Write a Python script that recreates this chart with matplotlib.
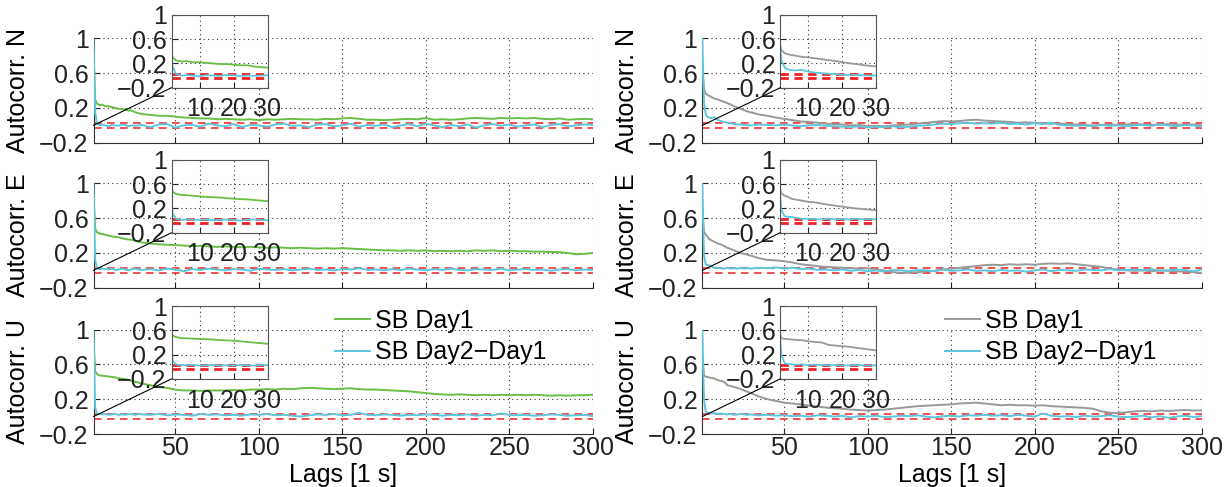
import matplotlib.pyplot as plt
from matplotlib.patches import ConnectionPatch

plt.rcParams['font.family'] = ['Liberation Sans', 'DejaVu Sans']
plt.rcParams['font.size'] = 18

# lags [1 s]
lags = [1, 2, 3, 4, 5, 6, 8, 10, 12, 14, 16, 18, 20, 22, 24, 26, 28, 30] + list(range(35, 305, 5))

# left column: SB Day1 (green) / SB Day2-Day1 (cyan)
green_N = [0.83, 0.30, 0.25, 0.24, 0.23, 0.24, 0.22, 0.22, 0.21, 0.20, 0.19, 0.19, 0.18, 0.17, 0.17, 0.15, 0.14, 0.13,
           0.12, 0.11, 0.11, 0.10, 0.09, 0.085, 0.08, 0.08, 0.07,
           0.075, 0.07, 0.065, 0.07, 0.06, 0.07, 0.065, 0.07, 0.075,
           0.07, 0.07, 0.065, 0.075, 0.07, 0.08, 0.085, 0.075, 0.065,
           0.065, 0.06, 0.065, 0.07, 0.075, 0.07, 0.085, 0.065, 0.07,
           0.065, 0.07, 0.08, 0.085, 0.08, 0.075, 0.085, 0.08, 0.085,
           0.08, 0.085, 0.075, 0.07, 0.08, 0.065, 0.07, 0.075, 0.07]
cyan_N = [1.0, 0.15, 0.03, 0.01, 0.0, 0.01, 0.0, -0.01, 0.005, 0.0, -0.005, 0.01, 0.005, -0.01, 0.0, -0.005, 0.0, 0.005,
          -0.02, 0.01, 0.015, -0.025, 0.0, 0.005, -0.015, 0.02, 0.0,
          -0.01, 0.015, -0.02, 0.005, 0.0, -0.015, 0.01, 0.02, -0.005,
          0.0, -0.02, 0.01, 0.015, -0.01, 0.0, 0.02, -0.015, 0.005,
          -0.005, 0.01, -0.02, 0.0, 0.015, -0.01, 0.02, 0.0, -0.02,
          0.005, -0.01, 0.01, -0.025, 0.0, 0.015, -0.005, 0.01, -0.015,
          0.0, 0.01, -0.02, 0.005, 0.015, -0.01, 0.0, 0.01, 0.005]
green_E = [0.87, 0.48, 0.44, 0.43, 0.42, 0.42, 0.41, 0.40, 0.39, 0.385, 0.38, 0.37, 0.36, 0.355, 0.35, 0.34, 0.33, 0.32,
           0.31, 0.30, 0.295, 0.29, 0.285, 0.28, 0.28, 0.275, 0.27,
           0.275, 0.27, 0.265, 0.27, 0.265, 0.26, 0.265, 0.26, 0.255,
           0.26, 0.255, 0.25, 0.255, 0.25, 0.255, 0.25, 0.245, 0.24,
           0.235, 0.23, 0.23, 0.225, 0.23, 0.225, 0.23, 0.22, 0.225,
           0.22, 0.225, 0.22, 0.23, 0.225, 0.23, 0.22, 0.225, 0.22,
           0.22, 0.215, 0.215, 0.21, 0.21, 0.20, 0.185, 0.19, 0.20]
cyan_E = [1.0, 0.12, 0.03, 0.02, 0.01, 0.02, 0.015, 0.01, 0.02, 0.005, 0.01, 0.02, 0.01, 0.0, 0.015, 0.02, 0.01, 0.005,
          0.015, 0.0, 0.02, 0.01, -0.01, 0.015, 0.005, 0.02, 0.01,
          0.0, 0.015, 0.01, -0.005, 0.02, 0.01, 0.005, 0.015, 0.0,
          0.01, 0.02, 0.005, 0.01, 0.0, 0.015, 0.01, 0.025, 0.005,
          0.01, 0.0, 0.015, 0.005, 0.02, 0.01, 0.0, 0.015, 0.005,
          0.02, 0.005, 0.0, 0.015, 0.01, 0.005, 0.02, 0.0, 0.01,
          0.015, 0.005, 0.01, -0.005, 0.01, 0.015, 0.0, 0.01, 0.005]
green_U = [0.87, 0.52, 0.49, 0.48, 0.47, 0.47, 0.465, 0.46, 0.455, 0.45, 0.44, 0.435, 0.43, 0.42, 0.41, 0.40, 0.39, 0.38,
           0.36, 0.34, 0.33, 0.31, 0.30, 0.30, 0.295, 0.30, 0.30,
           0.30, 0.305, 0.30, 0.31, 0.31, 0.315, 0.31, 0.32, 0.315,
           0.325, 0.33, 0.325, 0.32, 0.315, 0.32, 0.325, 0.315, 0.31,
           0.31, 0.305, 0.30, 0.295, 0.29, 0.28, 0.27, 0.26, 0.255,
           0.25, 0.255, 0.25, 0.245, 0.25, 0.245, 0.25, 0.245, 0.25,
           0.245, 0.25, 0.245, 0.24, 0.245, 0.24, 0.245, 0.245, 0.25]
cyan_U = [1.0, 0.10, 0.04, 0.03, 0.03, 0.025, 0.03, 0.02, 0.025, 0.03, 0.02, 0.025, 0.02, 0.03, 0.025, 0.02, 0.03, 0.025,
          0.02, 0.03, 0.015, 0.025, 0.02, 0.01, 0.03, 0.02, 0.025,
          0.015, 0.02, 0.01, 0.025, 0.02, 0.03, 0.015, 0.02, 0.01,
          0.0, 0.015, 0.025, 0.02, 0.03, 0.015, 0.02, 0.045, 0.02,
          0.015, 0.025, 0.02, 0.01, 0.02, 0.015, 0.025, 0.02, 0.01,
          0.02, 0.015, 0.025, 0.01, 0.02, 0.015, 0.035, 0.02, 0.015,
          0.02, 0.01, 0.015, 0.025, 0.02, 0.01, 0.015, 0.02, 0.005]

# right column: SB Day1 (gray) / SB Day2-Day1 (cyan)
gray_N = [0.67, 0.42, 0.37, 0.35, 0.34, 0.33, 0.31, 0.30, 0.285, 0.27, 0.255, 0.24, 0.22, 0.205, 0.19, 0.175, 0.16, 0.15,
          0.125, 0.11, 0.09, 0.075, 0.06, 0.045, 0.04, 0.03, 0.02,
          0.015, 0.01, 0.0, 0.005, -0.01, -0.005, -0.01, 0.0, 0.005,
          0.01, 0.02, 0.03, 0.04, 0.05, 0.045, 0.05, 0.06, 0.065,
          0.055, 0.05, 0.045, 0.04, 0.03, 0.035, 0.03, 0.025, 0.02,
          0.02, 0.015, 0.01, 0.005, 0.0, 0.005, 0.01, 0.005, 0.01,
          0.015, 0.01, 0.005, 0.01, 0.015, 0.01, 0.005, 0.01, 0.0]
cyan2_N = [1.0, 0.26, 0.13, 0.10, 0.09, 0.085, 0.095, 0.065, 0.05, 0.04, 0.03, 0.025, 0.015, 0.01, 0.01, 0.005, 0.0, 0.0,
           0.01, 0.005, 0.0, 0.01, 0.0, -0.01, 0.0, 0.005, -0.005,
           -0.01, -0.015, -0.02, -0.01, -0.025, -0.015, -0.02, -0.01, -0.02,
           -0.015, -0.005, 0.0, 0.01, 0.02, 0.015, 0.025, 0.03, 0.02,
           0.025, 0.02, 0.03, 0.015, 0.02, 0.01, 0.025, 0.015, 0.03,
           0.005, 0.0, -0.005, 0.0, -0.01, 0.005, -0.005, 0.0, -0.01,
           0.0, 0.005, -0.005, 0.01, 0.0, -0.01, 0.005, 0.0, -0.015]
gray_E = [0.70, 0.45, 0.41, 0.39, 0.36, 0.35, 0.33, 0.31, 0.30, 0.28, 0.26, 0.245, 0.23, 0.215, 0.20, 0.19, 0.18, 0.17,
          0.14, 0.12, 0.115, 0.105, 0.09, 0.07, 0.06, 0.05, 0.04,
          0.035, 0.03, 0.025, 0.02, 0.025, 0.01, 0.0, -0.02, -0.03,
          -0.025, -0.02, -0.01, -0.005, 0.01, 0.02, 0.03, 0.04, 0.05,
          0.06, 0.065, 0.06, 0.07, 0.065, 0.07, 0.065, 0.075, 0.08,
          0.075, 0.08, 0.07, 0.06, 0.05, 0.04, 0.02, 0.01, 0.0,
          -0.005, 0.0, -0.01, 0.0, -0.005, -0.01, -0.015, -0.02, -0.03]
cyan2_E = [1.0, 0.17, 0.07, 0.06, 0.06, 0.05, 0.03, 0.03, 0.025, 0.02, 0.03, 0.02, 0.025, 0.02, 0.03, 0.02, 0.025, 0.02,
           0.03, 0.025, 0.035, 0.02, 0.03, 0.015, 0.02, 0.005, 0.01,
           0.0, 0.01, -0.005, 0.005, -0.01, 0.0, -0.015, 0.005, 0.0,
           -0.01, 0.005, 0.0, -0.01, 0.01, -0.005, 0.0, 0.01, -0.005,
           0.0, -0.01, 0.005, -0.005, 0.0, -0.015, 0.0, 0.01, -0.01,
           0.005, 0.0, -0.005, 0.01, 0.005, 0.0, 0.015, 0.0, 0.005,
           0.01, 0.0, 0.015, -0.005, 0.0, 0.01, 0.005, -0.01, 0.01]
gray_U = [0.71, 0.47, 0.46, 0.455, 0.45, 0.445, 0.44, 0.42, 0.41, 0.40, 0.36, 0.35, 0.34, 0.33, 0.315, 0.30, 0.285, 0.27,
          0.23, 0.20, 0.18, 0.16, 0.15, 0.14, 0.125, 0.115, 0.105,
          0.095, 0.09, 0.08, 0.075, 0.07, 0.075, 0.08, 0.09, 0.10,
          0.11, 0.12, 0.125, 0.13, 0.135, 0.14, 0.15, 0.155, 0.16,
          0.15, 0.14, 0.13, 0.135, 0.13, 0.13, 0.125, 0.13, 0.12,
          0.115, 0.11, 0.105, 0.10, 0.09, 0.06, 0.045, 0.04, 0.05,
          0.06, 0.065, 0.06, 0.07, 0.065, 0.07, 0.075, 0.07, 0.07]
cyan2_U = [1.0, 0.20, 0.06, 0.045, 0.04, 0.035, 0.04, 0.03, 0.035, 0.03, 0.025, 0.03, 0.02, 0.025, 0.03, 0.025, 0.02, 0.025,
           0.015, 0.02, 0.01, 0.015, 0.005, 0.01, 0.0, 0.015, 0.01,
           0.0, 0.01, -0.01, 0.005, 0.0, 0.01, -0.005, 0.0, 0.01,
           0.005, 0.015, 0.0, -0.01, 0.005, 0.01, 0.0, 0.015, 0.01,
           0.02, 0.01, 0.015, 0.005, 0.02, 0.01, 0.0, 0.035, 0.01,
           0.0, 0.005, -0.005, 0.01, 0.0, 0.005, 0.015, 0.0, -0.005,
           0.0, 0.01, -0.01, 0.005, -0.015, 0.0, 0.01, -0.005, 0.005]

conf = 0.033  # confidence bound
row_names = ['N', 'E', 'U']
left_day1 = [green_N, green_E, green_U]
left_diff = [cyan_N, cyan_E, cyan_U]
right_day1 = [gray_N, gray_E, gray_U]
right_diff = [cyan2_N, cyan2_E, cyan2_U]

GREEN = '#6abd45'
CYAN = '#5cc6dc'
GRAY = '#999999'
RED = '#ee2024'

W, H = 1231, 487
def box(x, y, w, h):
    return [x / W, 1 - (y + h) / H, w / W, h / H]

fig = plt.figure(figsize=(W / 100, H / 100), dpi=100)

col_x = [93.5, 702.3]
row_y = [38.3, 183.3, 329.5]
ax_w, ax_h = 499.3, 104.5
yt = [-0.2, 0.2, 0.6, 1]
ytl = ['\u22120.2', '0.2', '0.6', '1']

def style(ax, inset=False):
    ax.set_ylim(-0.2, 1)
    ax.set_yticks(yt)
    ax.set_yticklabels(ytl)
    ax.grid(True, linestyle=(0, (1, 3)), color='#333333', lw=0.8)
    ax.tick_params(direction='in', length=4, width=0.8, colors='#222222', pad=3.5, labelsize=18)
    ax.tick_params(axis='x', pad=7 if inset else 1.5)
    for s in ax.spines.values():
        s.set_color('#555555' if inset else '#333333')
        s.set_linewidth(0.8)

for c in range(2):
    day1 = left_day1 if c == 0 else right_day1
    diff = left_diff if c == 0 else right_diff
    col1 = GREEN if c == 0 else GRAY
    for r in range(3):
        ax = fig.add_axes(box(col_x[c], row_y[r], ax_w, ax_h))
        ax.axhline(conf, color=RED, lw=1.1, ls=(0, (5, 3.5)), zorder=2)
        ax.axhline(-conf, color=RED, lw=1.1, ls=(0, (5, 3.5)), zorder=2)
        l1, = ax.plot(lags, day1[r], color=col1, lw=1.4, label='SB Day1', zorder=3)
        l2, = ax.plot(lags, diff[r], color=CYAN, lw=1.4, label='SB Day2\u2212Day1', zorder=3)
        style(ax)
        ax.set_xlim(1, 300)
        ax.set_xticks([50, 100, 150, 200, 250, 300])
        ax.spines['top'].set_visible(False)
        ax.spines['right'].set_visible(False)
        ax.set_ylabel('Autocorr. ' + row_names[r], fontsize=18)
        ax.yaxis.set_label_coords(-0.127, 0.5)
        if r < 2:
            ax.tick_params(axis='x', labelbottom=False)
        else:
            ax.set_xlabel('Lags [1 s]', fontsize=18, labelpad=2)
            lx = 335 if c == 0 else 945
            ax.legend(handles=[l1, l2], loc='upper left', frameon=False,
                      bbox_to_anchor=(lx / W, 1 - 309 / H), bbox_transform=fig.transFigure,
                      borderpad=0, borderaxespad=0, handlelength=1.4, handletextpad=0.2,
                      labelspacing=0.3, fontsize=18)

        # zoomed inset of the first 30 lags
        ins = fig.add_axes(box(col_x[c] + 78, row_y[r] - 23.3, 96, 72.7))
        ins.axhline(conf, color=RED, lw=2.0, ls=(0, (3, 2)))
        ins.axhline(-conf, color=RED, lw=2.0, ls=(0, (3, 2)))
        ins.plot(lags, day1[r], color=col1, lw=1.3)
        ins.plot(lags, diff[r], color=CYAN, lw=1.3)
        style(ins, inset=True)
        ins.set_xlim(1.7, 30)
        ins.set_xticks([10, 20, 30])
        con = ConnectionPatch(xyA=(1, 0), coordsA=ax.transData,
                              xyB=(0, 0), coordsB=ins.transAxes,
                              color='k', lw=0.8)
        fig.add_artist(con)

fig.savefig('out.png', dpi=100)
